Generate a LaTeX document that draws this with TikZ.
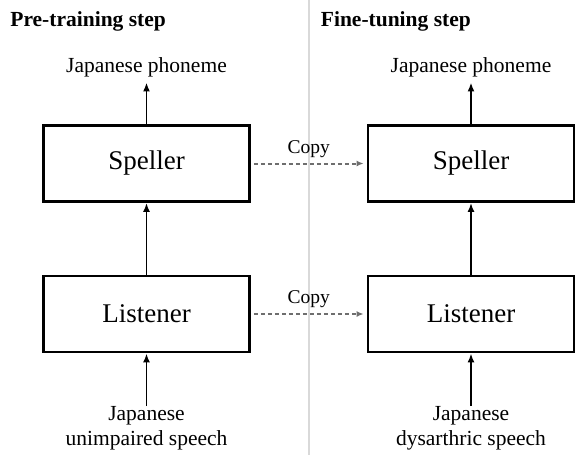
\documentclass[tikz,border=0pt]{standalone}
\usepackage{fontspec}
\setmainfont{Liberation Serif}
\usepackage{xcolor}
\usetikzlibrary{arrows.meta, positioning}

\begin{document}
\begin{tikzpicture}[
		x=1pt, y=-1pt,
		line width=1.8pt,
		module/.style={draw, line width=2.8pt, minimum width=206pt, minimum height=76pt, inner sep=0pt, font=\fontsize{27}{30}\selectfont},
		io label/.style={inner xsep=0pt, inner ysep=0pt, align=center, font=\fontsize{21.5}{25}\selectfont},
		step title/.style={anchor=base west, inner sep=0pt, font=\fontsize{21.5}{25}\selectfont\bfseries},
		flow/.style={-{Latex[length=9pt, width=7pt]}},
		copy/.style={-{Latex[length=7pt, width=6pt]}, color=black!57, line width=2pt, dash pattern=on 4pt off 3pt, shorten <=3pt, shorten >=3pt},
		copy label/.style={inner sep=0pt, font=\fontsize{19.5}{22}\selectfont, text=black}
		]
	
	\useasboundingbox (0, 0) rectangle (576, 455);
	
	% Separator
	\draw[black!15] (309, 0) -- (309, 455);
	
	% Pre-training step
	\node[step title] (title1) at (9.5, 27) {Pre-training step};
	\node[module] (speller1) at (146.5, 163.5) {Speller};
	\node[module] (listener1) at (146.5, 314) {Listener};
	\node[io label, inner ysep=5pt, anchor=base] (out1) at (146.5, 72) {Japanese phoneme};
	\node[io label, anchor=north] (in1) at (146.5, 406) {Japanese\\unimpaired speech};
	
	% Fine-tuning step
	\node[step title] (title2) at (320, 27) {Fine-tuning step};
	\node[module] (speller2) at (471, 163.5) {Speller};
	\node[module] (listener2) at (471, 314) {Listener};
	\node[io label, inner ysep=5pt, anchor=base] (out2) at (471, 72) {Japanese phoneme};
	\node[io label, anchor=north] (in2) at (471, 406) {Japanese\\dysarthric speech};
	
	% Forward arrows
	\draw[flow] (in1) -- (listener1);
	\draw[flow] (listener1) -- (speller1);
	\draw[flow] (speller1) -- (out1);
	\draw[flow] (in2) -- (listener2);
	\draw[flow] (listener2) -- (speller2);
	\draw[flow] (speller2) -- (out2);
	
	% Copy weights
	\draw[copy] (speller1.east) -- node[copy label, above=5pt] {Copy} (speller2.west);
	\draw[copy] (listener1.east) -- node[copy label, above=5pt] {Copy} (listener2.west);

\end{tikzpicture}
\end{document}
